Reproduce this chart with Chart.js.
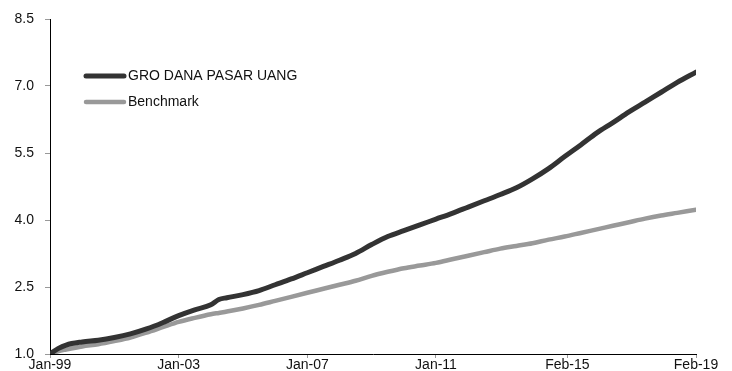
<!DOCTYPE html>
<html>
<head>
<meta charset="utf-8">
<script src="https://cdn.jsdelivr.net/npm/chart.js@4/dist/chart.umd.min.js"></script>
<style>
html,body{margin:0;padding:0;background:#fff;}
#wrap{width:732px;height:371px;position:relative;}
</style>
</head>
<body>
<div id="wrap"><canvas id="c" width="732" height="371"></canvas></div>
<script>
// month offsets from Jan-99
const months = [0,3,6,12,18,24,30,36,42,48,54,60,63,66,72,78,84,90,96,102,108,114,120,126,132,138,144,150,156,162,168,174,180,186,192,198,204,210,216,222,228,234,241];
const groValues = [1.0,1.12,1.2,1.27,1.31,1.37,1.45,1.56,1.7,1.86,1.99,2.1,2.22,2.26,2.33,2.42,2.55,2.68,2.82,2.96,3.1,3.25,3.45,3.63,3.76,3.89,4.02,4.15,4.29,4.43,4.57,4.72,4.92,5.15,5.42,5.68,5.95,6.18,6.42,6.64,6.86,7.08,7.31];
const benchValues = [1.0,1.06,1.1,1.17,1.22,1.29,1.37,1.48,1.6,1.72,1.81,1.89,1.92,1.95,2.02,2.1,2.19,2.28,2.37,2.46,2.55,2.64,2.75,2.84,2.92,2.98,3.04,3.12,3.2,3.28,3.36,3.42,3.48,3.56,3.63,3.71,3.79,3.87,3.95,4.03,4.1,4.16,4.23];
const xTickMonths = [0,48,96,144,193,241];
const xTickLabels = ["Jan-99","Jan-03","Jan-07","Jan-11","Feb-15","Feb-19"];
const yTicks = [1.0,2.5,4.0,5.5,7.0,8.5];
const seriesNames = ["GRO DANA PASAR UANG","Benchmark"];

const FONT = "'Liberation Sans', Arial, sans-serif";

const legendPlugin = {
  id: 'fixedLegend',
  afterDraw(chart) {
    const ctx = chart.ctx;
    const items = chart.data.datasets;
    const x0 = 86, x1 = 124;
    const ys = [76, 102];
    ctx.save();
    items.forEach((ds, i) => {
      ctx.beginPath();
      ctx.strokeStyle = ds.borderColor;
      ctx.lineWidth = ds.borderWidth;
      ctx.lineCap = 'round';
      ctx.moveTo(x0, ys[i]);
      ctx.lineTo(x1, ys[i]);
      ctx.stroke();
      ctx.fillStyle = '#111';
      ctx.font = "14px " + FONT;
      ctx.textBaseline = 'middle';
      ctx.textAlign = 'left';
      ctx.fillText(ds.label, 128, ys[i] + 0.5);
    });
    ctx.restore();
  }
};

new Chart(document.getElementById('c'), {
  type: 'line',
  data: {
    datasets: [
      {
        label: seriesNames[0],
        data: months.map((m, i) => ({x: m, y: groValues[i]})),
        borderColor: '#333333',
        borderWidth: 5,
        pointRadius: 0,
        cubicInterpolationMode: 'monotone',
        borderCapStyle: 'round',
        borderJoinStyle: 'round',
        fill: false
      },
      {
        label: seriesNames[1],
        data: months.map((m, i) => ({x: m, y: benchValues[i]})),
        borderColor: '#999999',
        borderWidth: 4.5,
        pointRadius: 0,
        cubicInterpolationMode: 'monotone',
        borderCapStyle: 'round',
        borderJoinStyle: 'round',
        fill: false
      }
    ]
  },
  options: {
    responsive: false,
    animation: false,
    layout: { padding: { left: 0, right: 36, top: 19, bottom: 0 } },
    plugins: { legend: { display: false }, tooltip: { enabled: false } },
    scales: {
      x: {
        type: 'linear',
        min: 0,
        max: 241,
        afterBuildTicks(scale) { scale.ticks = xTickMonths.map(v => ({value: v})); },
        ticks: {
          autoSkip: false,
          maxRotation: 0,
          padding: 0,
          color: '#111',
          font: { family: FONT, size: 14, lineHeight: 1.0 },
          callback(v) { const i = xTickMonths.indexOf(v); return i >= 0 ? xTickLabels[i] : ''; }
        },
        grid: { drawOnChartArea: false, drawTicks: true, tickLength: 4, color: '#999' },
        border: { color: '#000', width: 1 },
        afterFit(scale) { scale.height = 17; scale.paddingLeft = 0; scale.paddingRight = 0; }
      },
      y: {
        min: 1.0,
        max: 8.5,
        afterBuildTicks(scale) { scale.ticks = yTicks.map(v => ({value: v})); },
        ticks: {
          padding: 11,
          color: '#111',
          font: { family: FONT, size: 14 },
          callback(v) { return Number(v).toFixed(1); }
        },
        grid: { drawOnChartArea: false, drawTicks: true, tickLength: 5, color: '#999' },
        border: { color: '#000', width: 1 },
        afterFit(scale) { scale.width = 50; scale.paddingTop = 0; scale.paddingBottom = 0; }
      }
    }
  },
  plugins: [legendPlugin]
});
</script>
</body>
</html>
